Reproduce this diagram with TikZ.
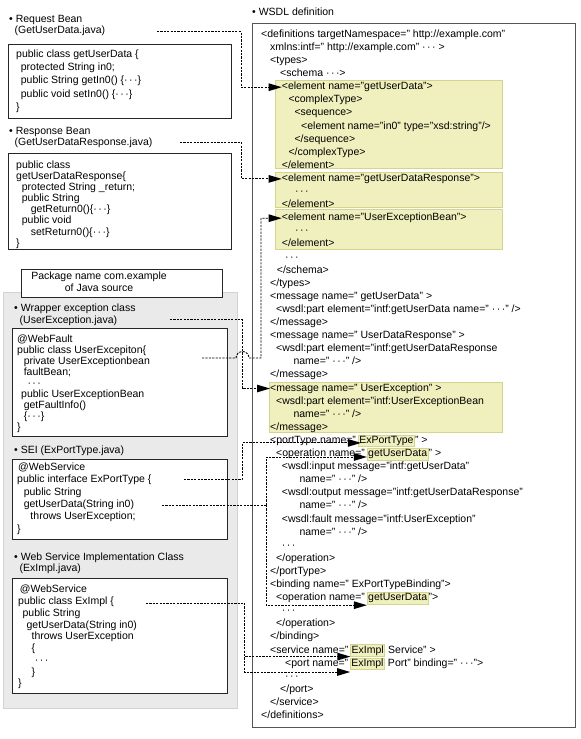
\documentclass[tikz,border=0pt]{standalone}
\usepackage{fontspec}
\setmainfont{Liberation Sans}
\usetikzlibrary{arrows.meta,calc}
\definecolor{hlfill}{RGB}{240,240,190}
\definecolor{hlline}{RGB}{212,212,140}
\definecolor{panelfill}{RGB}{234,234,234}
\definecolor{panelline}{RGB}{210,210,210}
\definecolor{frame}{RGB}{85,85,85}
\newcommand\jf[1]{\fontsize{10.5}{#1}\selectfont}
\newcommand\mydots{·\kern1.5pt·\kern1.5pt·}
\newcommand\wl[4]{\node[wt] (#1) at (#2,{-(37.3+(#3-1)*13.1)}) {#4};}
\newcommand\arrtip[1]{\fill[black] (#1) -- ++(-13,3.9) -- ++(0,-7.8) -- cycle;}
\begin{document}
\begin{tikzpicture}[x=1pt,y=1pt,
  wt/.style={font=\jf{13.1}, inner sep=0pt, anchor=base west, text height=7.5pt, text depth=2.5pt},
  hw/.style={wt, fill=hlfill, draw=hlline, line width=0.6pt, inner xsep=1pt, inner ysep=0.8pt},
  hlb/.style={fill=hlfill, draw=hlline, line width=0.6pt, anchor=north west, inner sep=0pt},
  jbox/.style={draw=black!85, line width=0.9pt, fill=white, anchor=north west, inner sep=0pt},
  jt/.style={font=\jf{#1}, align=left, anchor=north west, inner sep=0pt},
  conn/.style={draw=black, line width=0.9pt, dash pattern=on 2.2pt off 1.2pt, shorten >=5pt},
]
\useasboundingbox (0,0) rectangle (581,-739);

% ---------- left column ----------
\node[jt=11.5] (hReq) at (9,-13.75) {\strut• Request Bean\\\hspace*{5.5pt}(GetUserData.java)};
\node[jbox, minimum width=223pt, minimum height=74pt] (b1) at (8,-44) {};
\node[jt=13.3] (t1) at (16,-47.6) {\strut public class getUserData \{\\
\hspace*{4.7pt}protected String in0;\\
\hspace*{4.7pt}public String getIn0() \{\mydots\}\\
\hspace*{4.7pt}public void setIn0() \{\mydots\}\\
\}};

\node[jt=11] (hResp) at (9,-126.3) {\strut• Response Bean\\\hspace*{5.5pt}(GetUserDataResponse.java)};
\node[jbox, minimum width=223pt, minimum height=96pt] (b2) at (8,-153) {};
\node[jt=11.1] (t2) at (16,-160.5) {\strut public class\\
getUserDataResponse\{\\
\hspace*{5.7pt}protected String \_return;\\
\hspace*{5.7pt}public String\\
\hspace*{14.7pt}getReturn0()\{\mydots\}\\
\hspace*{5.7pt}public void\\
\hspace*{14.7pt}setReturn0()\{\mydots\}\\
\}};

% grey panel
\node[fill=panelfill, draw=panelline, line width=0.8pt, anchor=north west, inner sep=0pt,
      minimum width=234pt, minimum height=416.6pt] (panel) at (3.3,-291.7) {};
\node[jbox, minimum width=201pt, minimum height=28pt] (pkg) at (21,-269) {};
\node[font=\jf{12}, align=center, inner sep=0pt] (pkgt) at (99,-282) {Package name com.example\\of Java source};

\node[jt=12] (hWrap) at (14,-302.9) {\strut• Wrapper exception class\\\hspace*{5.5pt}(UserException.java)};
\node[jbox, minimum width=215pt, minimum height=108pt] (b3) at (12,-328) {};
\node[jt=11] (t3) at (17,-334.6) {\strut @WebFault\\
public class UserExcepiton\{\\
\hspace*{6.6pt}private UserExceptionbean\\
\hspace*{6.6pt}faultBean;\\
\hspace*{10.3pt}\mydots\\
\hspace*{4pt}public UserExceptionBean\\
\hspace*{6.6pt}getFaultInfo()\\
\hspace*{6.6pt}\{\mydots\}\\
\}};

\node[jt=12] (hSEI) at (14,-445.1) {\strut• SEI (ExPortType.java)};
\node[jbox, minimum width=215pt, minimum height=80pt] (b4) at (12,-459) {};
\node[jt=12.3] (t4) at (17,-461.7) {\strut\hspace*{1pt}@WebService\\
public interface ExPortType \{\\
\hspace*{6.6pt}public String\\
\hspace*{6.6pt}getUserData(String in0)\\
\hspace*{13.3pt}throws UserException;\\
\}};

\node[jt=11.6] (hImpl) at (14,-551.8) {\strut• Web Service Implementation Class\\\hspace*{5.5pt}(ExImpl.java)};
\node[jbox, minimum width=215pt, minimum height=115pt] (b5) at (12,-578) {};
\node[jt=11.75] (t5) at (18,-584.4) {\strut\hspace*{1.7pt}@WebService\\
public class ExImpl \{\\
\hspace*{4.4pt}public String\\
\hspace*{8.4pt}getUserData(String in0)\\
\hspace*{13.4pt}throws UserException\\
\hspace*{13.4pt}\{\\
\hspace*{16.7pt}\mydots\\
\hspace*{13.4pt}\}\\
\}};

% ---------- WSDL column ----------
\node[wt] (hW) at (252,-15) {• WSDL definition};
\node[draw=frame, line width=1.2pt, fill=white, anchor=north west, inner sep=0pt,
      minimum width=323pt, minimum height=704pt] (wsdl) at (252,-23) {};
\node[hlb, minimum width=227.3pt, minimum height=88.3pt] (hA) at (275,-80) {};
\node[hlb, minimum width=227.3pt, minimum height=35.6pt] (hB) at (275,-171.7) {};
\node[hlb, minimum width=227.3pt, minimum height=39.7pt] (hC) at (275,-209.3) {};
\node[hlb, minimum width=233pt, minimum height=50pt] (hD) at (269.3,-381.7) {};

\wl{w1}{261}{1}{<definitions targetNamespace=" http://example.com"}
\wl{w2}{270}{2}{xmlns:intf=" http://example.com" \mydots{} >}
\wl{w3}{270}{3}{<types>}
\wl{w4}{280}{4}{<schema \mydots>}
\wl{w5}{281.7}{5}{<element name="getUserData">}
\wl{w6}{288.3}{6}{<complexType>}
\wl{w7}{294.3}{7}{<sequence>}
\wl{w8}{301}{8}{<element name="in0" type="xsd:string"/>}
\wl{w9}{294.3}{9}{</sequence>}
\wl{w10}{288.3}{10}{</complexType>}
\wl{w11}{281.7}{11}{</element>}
\wl{w12}{281.7}{12}{<element name="getUserDataResponse">}
\wl{w13}{295}{13}{\mydots}
\wl{w14}{281.7}{14}{</element>}
\wl{w15}{281.7}{15}{<element name="UserExceptionBean">}
\wl{w16}{295}{16}{\mydots}
\wl{w17}{281.7}{17}{</element>}
\wl{w18}{285}{18}{\mydots}
\wl{w19}{276.7}{19}{</schema>}
\wl{w20}{270}{20}{</types>}
\wl{w21}{270}{21}{<message name=" getUserData" >}
\wl{w22}{276}{22}{<wsdl:part element="intf:getUserData name=" \mydots" />}
\wl{w23}{270}{23}{</message>}
\wl{w24}{270}{24}{<message name=" UserDataResponse" >}
\wl{w25}{276}{25}{<wsdl:part element="intf:getUserDataResponse}
\wl{w26}{293.3}{26}{name=" \mydots" />}
\wl{w27}{270}{27}{</message>}
\wl{w28}{270}{28}{<message name=" UserException" >}
\wl{w29}{276}{29}{<wsdl:part element="intf:UserExceptionBean}
\wl{w30}{293.3}{30}{name=" \mydots" />}
\wl{w31}{270}{31}{</message>}
\wl{w32}{270}{32}{<portType name="\,}
\node[hw] (hl32) at (w32.base east) {ExPortType};
\node[wt] (w32b) at (hl32.base east) {" >};
\wl{w33}{276}{33}{<operation name="\,}
\node[hw] (hl33) at (w33.base east) {getUserData};
\node[wt] (w33b) at (hl33.base east) {" >};
\wl{w34}{281.7}{34}{<wsdl:input message="intf:getUserData"}
\wl{w35}{299.3}{35}{name=" \mydots" />}
\wl{w36}{281.7}{36}{<wsdl:output message="intf:getUserDataResponse"}
\wl{w37}{299.3}{37}{name=" \mydots" />}
\wl{w38}{281.7}{38}{<wsdl:fault message="intf:UserException"}
\wl{w39}{299.3}{39}{name=" \mydots" />}
\wl{w40}{281.7}{40}{\mydots}
\wl{w41}{276}{41}{</operation>}
\wl{w42}{270}{42}{</portType>}
\wl{w43}{270}{43}{<binding name=" ExPortTypeBinding">}
\wl{w44}{276}{44}{<operation name="\,}
\node[hw] (hl44) at (w44.base east) {getUserData};
\node[wt] (w44b) at (hl44.base east) {">};
\wl{w45}{281.7}{45}{\mydots}
\wl{w46}{276}{46}{</operation>}
\wl{w47}{270}{47}{</binding>}
\wl{w48}{270}{48}{<service name="\,}
\node[hw] (hl48) at (w48.base east) {ExImpl};
\node[wt] (w48b) at (hl48.base east) {\ Service" >};
\wl{w49}{285}{49}{<port name="\,}
\node[hw] (hl49) at (w49.base east) {ExImpl};
\node[wt] (w49b) at (hl49.base east) {\ Port" binding=" \mydots">};
\wl{w50}{285}{50}{\mydots}
\wl{w51}{280}{51}{</port>}
\wl{w52}{270}{52}{</service>}
\wl{w53}{261}{53}{</definitions>}

% ---------- connectors ----------
\coordinate (s1) at (157,-31.5);
\coordinate (s2) at (180,-142);
\coordinate (s3) at (170,-319);
\coordinate (s4) at (202,-358);
\coordinate (s5) at (184,-479.5);
\coordinate (s6) at (162,-505);
\coordinate (s7) at (146,-603);
\coordinate (e5) at (w5.west);
\coordinate (e12) at (w12.west);
\coordinate (e15) at (w15.west);
\coordinate (e28) at (w28.west);
\coordinate (e32) at ([shift={(3pt,-2pt)}]hl32.west);
\coordinate (e33) at ([yshift=-3pt]hl33.west);
\coordinate (e44) at ([yshift=-1pt]hl44.south west);
\coordinate (e48) at (hl48.south west);
\coordinate (e49) at ([yshift=-2.3pt]hl49.south west);

\draw[conn] (s1) -- ++(84,0) |- (e5);
\draw[conn] (s2) -- ++(61,0) |- (e12);
\draw[conn] (s3) -- ++(72,0) |- (e28);
\draw[conn] (s4) -- ++(34,0) arc[start angle=180, end angle=0, radius=6.5] -- ++(12,0) |- (e15);
\draw[conn] (s5) -- ++(58,0) |- (e32);
\draw[conn,shorten >=0pt] (s6) -- ++(104,0) coordinate (j6);
\draw[conn] (j6) |- (e33);
\draw[conn] (j6) |- (e44);
\draw[conn,shorten >=0pt] (s7) -- ++(98.5,0) coordinate (j7);
\draw[conn] (j7) |- (e48);
\draw[conn] (j7) |- (e49);
\foreach \e in {e5,e12,e15,e28,e32,e33,e44,e48,e49}{\arrtip{\e}}
\end{tikzpicture}
\end{document}
